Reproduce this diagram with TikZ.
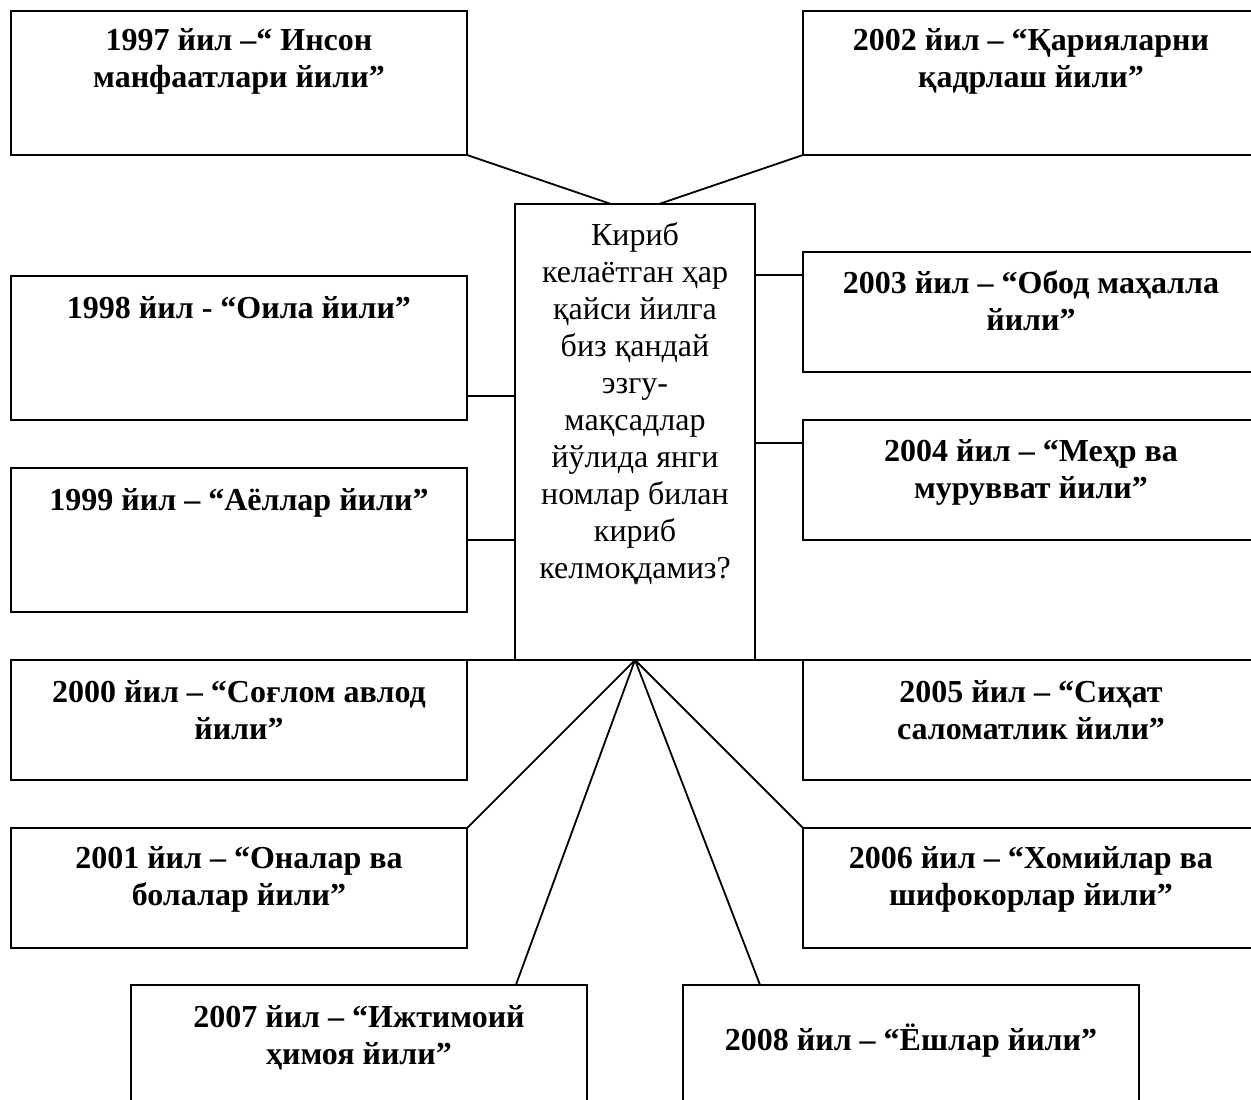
\documentclass[tikz,border=0pt]{standalone}
\usepackage{fontspec}
\setmainfont{Liberation Serif}
\usetikzlibrary{calc}
\usetikzlibrary{positioning}
\newcommand\yearlines[1]{\begin{tabular}[t]{@{}c@{}}#1\end{tabular}}

\begin{document}
\begin{tikzpicture}
  [x=0.5pt, y=-0.5pt,
   box/.style={draw, line width=1pt, inner sep=0pt, outer sep=0pt,
     anchor=north west, minimum width=228pt},
   tall/.style={box, minimum height=72pt},
   low/.style={box, minimum height=60pt},
   cut/.style={box, minimum height=70pt},
   link/.style={line width=0.9pt},
   yeartext/.style={anchor=base, inner sep=0pt,
     font=\fontsize{16pt}{18.5pt}\selectfont\bfseries},
   asktext/.style={anchor=base, inner sep=0pt,
     font=\fontsize{16pt}{18.5pt}\selectfont},
  ]
  \clip (0,0) rectangle (1251,1099);

  \node[box, minimum width=120pt, minimum height=228pt] (ask) at (515,204) {};
  \node[asktext] (task) at ([yshift=-20.5pt]ask.north)
    {\yearlines{Кириб\\келаётган ҳар\\қайси йилга\\биз қандай\\эзгу-\\мақсадлар\\йўлида янги\\номлар билан\\кириб\\келмоқдамиз?}};

  \node[tall] (y1997) at (11,11) {};
  \node[tall] (y2002) at (803,11) {};
  \node[tall] (y1998) at (11,276) {};
  \node[tall] (y1999) at (11,468) {};
  \node[low] (y2003) at (803,252) {};
  \node[low] (y2004) at (803,420) {};
  \node[low] (y2000) at (11,660) {};
  \node[low] (y2005) at (803,660) {};
  \node[low] (y2001) at (11,828) {};
  \node[low] (y2006) at (803,828) {};
  \node[cut] (y2007) at (131,985) {};
  \node[cut] (y2008) at (683,985) {};

  \node[yeartext] (t1997) at ([yshift=-19.5pt]y1997.north) {\yearlines{1997 йил –“ Инсон\\манфаатлари йили”}};
  \node[yeartext] (t2002) at ([yshift=-19.5pt]y2002.north) {\yearlines{2002 йил – “Қарияларни\\қадрлаш йили”}};
  \node[yeartext] (t1998) at ([yshift=-21pt]y1998.north) {1998 йил - “Оила йили”};
  \node[yeartext] (t1999) at ([yshift=-21pt]y1999.north) {1999 йил – “Аёллар йили”};
  \node[yeartext] (t2003) at ([yshift=-20.5pt]y2003.north) {\yearlines{2003 йил – “Обод маҳалла\\йили”}};
  \node[yeartext] (t2004) at ([yshift=-20.5pt]y2004.north) {\yearlines{2004 йил – “Меҳр ва\\мурувват йили”}};
  \node[yeartext] (t2000) at ([yshift=-21pt]y2000.north) {\yearlines{2000 йил – “Соғлом авлод\\йили”}};
  \node[yeartext] (t2005) at ([yshift=-21pt]y2005.north) {\yearlines{2005 йил – “Сиҳат\\саломатлик йили”}};
  \node[yeartext] (t2001) at ([yshift=-20pt]y2001.north) {\yearlines{2001 йил – “Оналар ва\\болалар йили”}};
  \node[yeartext] (t2006) at ([yshift=-20pt]y2006.north) {\yearlines{2006 йил – “Хомийлар ва\\шифокорлар йили”}};
  \node[yeartext] (t2007) at ([yshift=-21pt]y2007.north) {\yearlines{2007 йил – “Ижтимоий\\ҳимоя йили”}};
  \node[yeartext] (t2008) at ([yshift=-32.5pt]y2008.north) {2008 йил – “Ёшлар йили”};

  \draw[link] (y1997.south east) -- ($(ask.north west)!.4!(ask.north east)$);
  \draw[link] (y2002.south west) -- ($(ask.north west)!.6!(ask.north east)$);
  \draw[link] ([yshift=-60pt]y1998.north east) coordinate (l1998) -- (ask.west |- l1998);
  \draw[link] ([yshift=-36pt]y1999.north east) coordinate (l1999) -- (ask.west |- l1999);
  \draw[link] ([yshift=-11.5pt]y2003.north west) coordinate (l2003) -- (ask.east |- l2003);
  \draw[link] ([yshift=-11.5pt]y2004.north west) coordinate (l2004) -- (ask.east |- l2004);
  \draw[link] (y2000.north east) -- (ask.south west);
  \draw[link] (ask.south east) -- (y2005.north west);
  \draw[link] (ask.south) -- (y2001.north east);
  \draw[link] (ask.south) -- (y2006.north west);
  \draw[link] (ask.south) -- ($(y2007.north west)!.844!(y2007.north east)$);
  \draw[link] (ask.south) -- ($(y2008.north west)!.169!(y2008.north east)$);
\end{tikzpicture}
\end{document}
